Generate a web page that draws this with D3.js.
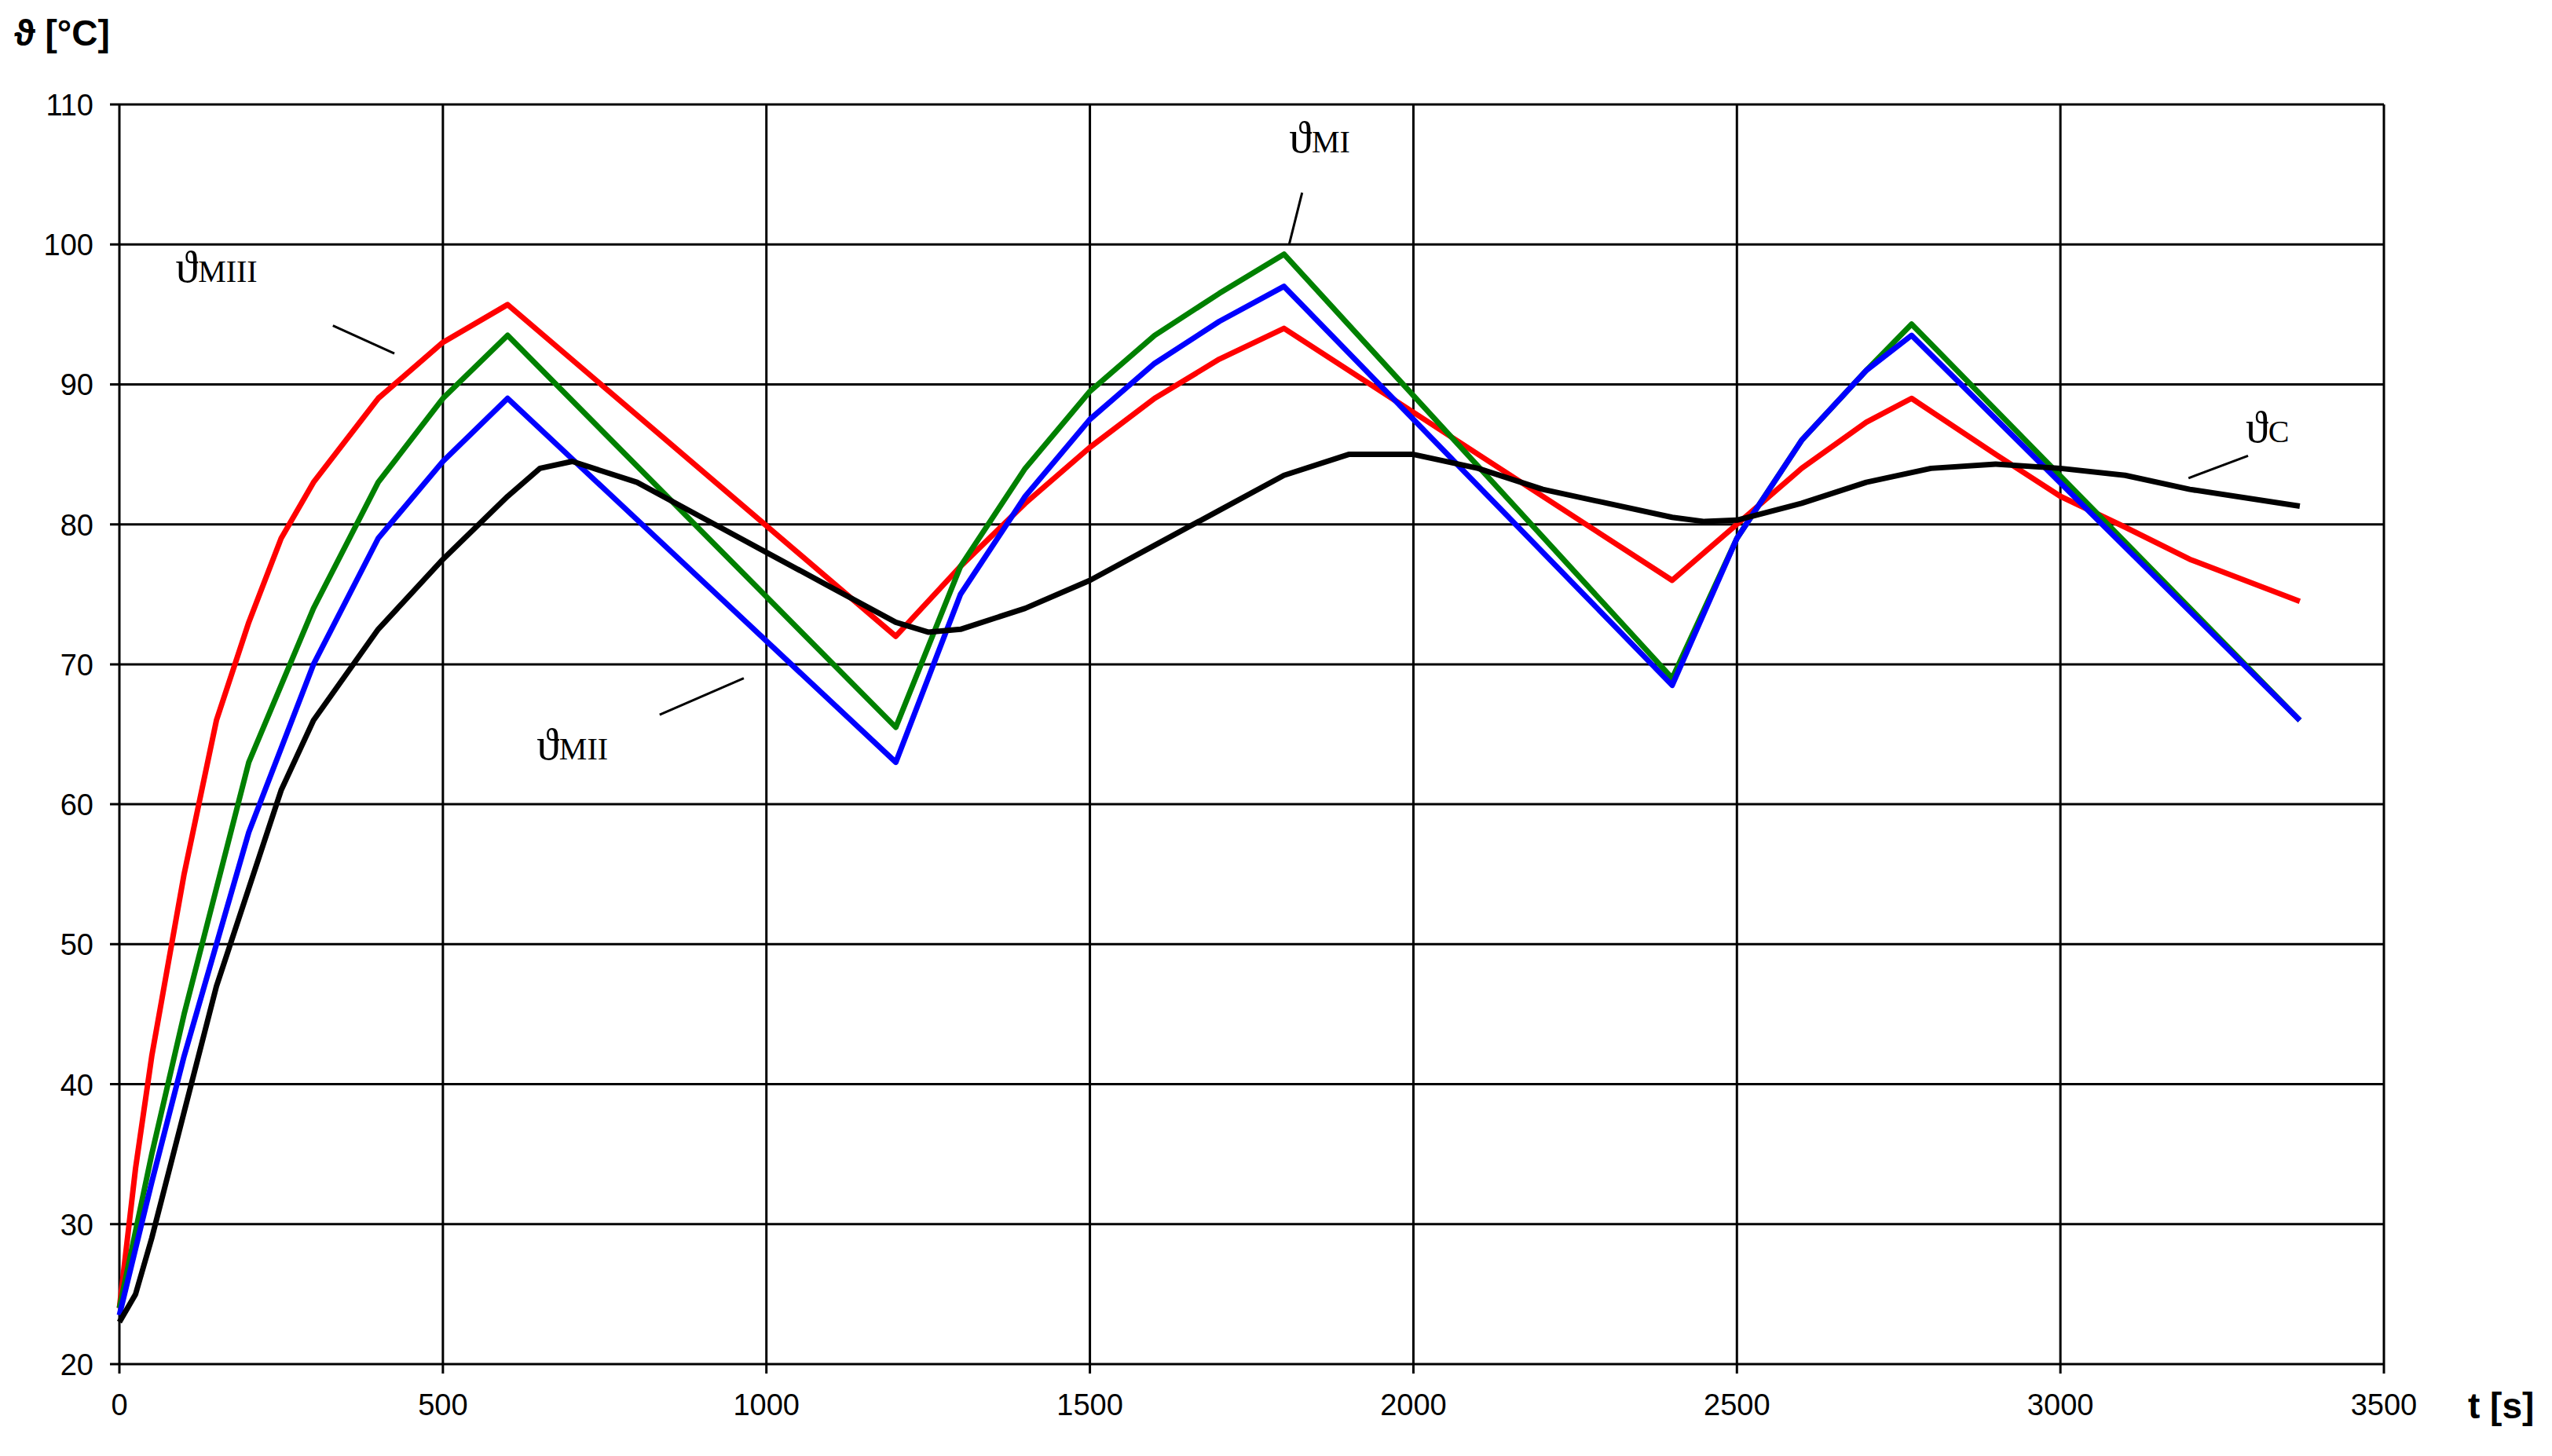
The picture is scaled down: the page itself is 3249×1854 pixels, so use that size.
<!DOCTYPE html>
<html>
<head>
<script src="https://cdn.jsdelivr.net/npm/d3@7"></script>
<style>body{margin:0;background:#fff}</style>
</head>
<body>
<svg width="3249" height="1854" id="mainsvg"></svg>
<script>
// data (t in s, temperature in degC)
const tMIII = [0,25,50,100,150,200,250,300,400,500,600,1200,1300,1400,1500,1600,1700,1800,2400,2500,2600,2700,2770,2900,3000,3100,3200,3370];
const vMIII = [24,34,42,55,66,73,79,83,89,93,95.7,72,77,81.5,85.5,89,91.8,94,76,80,84,87.3,89,85,82,79.8,77.5,74.5];
const tMI = [0,50,100,200,300,400,500,600,1200,1300,1400,1500,1600,1700,1800,2400,2500,2600,2700,2770,3370];
const vMI = [24,35,45,63,74,83,89,93.5,65.5,77,84,89.5,93.5,96.5,99.3,69,79,86,91,94.3,66];
const tMII = [0,50,100,200,300,400,500,600,1200,1300,1400,1500,1600,1700,1800,2400,2500,2600,2700,2770,3370];
const vMII = [23.5,33,42,58,70,79,84.5,89,63,75,82,87.5,91.5,94.5,97,68.5,79,86,91,93.5,66];
const tC = [0,25,50,100,150,200,250,300,400,500,600,650,700,800,900,1000,1100,1200,1250,1300,1400,1500,1600,1700,1800,1900,2000,2100,2200,2300,2400,2450,2500,2600,2700,2800,2900,3000,3100,3200,3370];
const vC = [23,25,29,38,47,54,61,66,72.5,77.5,82,84,84.5,83,80.5,78,75.5,73,72.3,72.5,74,76,78.5,81,83.5,85,85,84,82.5,81.5,80.5,80.2,80.3,81.5,83,84,84.3,84,83.5,82.5,81.3];
const xTicks = [0,500,1000,1500,2000,2500,3000,3500];
const yTicks = [20,30,40,50,60,70,80,90,100,110];

const series = [
  {t: tMIII, v: vMIII, color: "#ff0000"},
  {t: tMI, v: vMI, color: "#008000"},
  {t: tMII, v: vMII, color: "#0000ff"},
  {t: tC, v: vC, color: "#000000"}
];
// curve labels: text position and leader line (data units)
const labels = [
  {sub: "MIII", x: 150, y: 97.3, lx: [330, 425], ly: [94.2, 92.2]},
  {sub: "MI", x: 1855, y: 106.6, lx: [1828, 1808], ly: [103.7, 100]},
  {sub: "MII", x: 700, y: 63.2, lx: [835, 965], ly: [66.4, 69]},
  {sub: "C", x: 3320, y: 85.9, lx: [3290, 3198], ly: [84.9, 83.3]}
];

const svg = d3.select("#mainsvg");
const margin = {left: 152, top: 133, right: 214, bottom: 117};
const W = 3249 - margin.left - margin.right;
const H = 1854 - margin.top - margin.bottom;

const x = d3.scaleLinear().domain([0, 3500]).range([0, W]);
const y = d3.scaleLinear().domain([20, 110]).range([H, 0]);

const g = svg.append("g").attr("transform", `translate(${margin.left},${margin.top})`);

// grid
g.selectAll(".vg").data(xTicks).enter().append("line")
  .attr("x1", d => x(d)).attr("x2", d => x(d)).attr("y1", 0).attr("y2", H + 12)
  .attr("stroke", "#000").attr("stroke-width", 3);
g.selectAll(".hg").data(yTicks).enter().append("line")
  .attr("x1", -12).attr("x2", W).attr("y1", d => y(d)).attr("y2", d => y(d))
  .attr("stroke", "#000").attr("stroke-width", 3);

// tick labels
g.selectAll(".xt").data(xTicks).enter().append("text")
  .attr("x", d => x(d)).attr("y", H + 65).attr("text-anchor", "middle")
  .attr("font-family", "Liberation Sans, Arial").attr("font-size", 38).text(d => d);
g.selectAll(".yt").data(yTicks).enter().append("text")
  .attr("x", -33).attr("y", d => y(d) + 14).attr("text-anchor", "end")
  .attr("font-family", "Liberation Sans, Arial").attr("font-size", 38).text(d => d);

// axis titles
svg.append("text").attr("x", 18).attr("y", 58)
  .attr("font-family", "Liberation Sans, Arial").attr("font-weight", "bold").attr("font-size", 46)
  .text("ϑ [°C]");
svg.append("text").attr("x", 3142).attr("y", 1806)
  .attr("font-family", "Liberation Sans, Arial").attr("font-weight", "bold").attr("font-size", 46)
  .text("t [s]");

// curves
const line = d3.line().x(d => x(d[0])).y(d => y(d[1]));
series.forEach(s => {
  g.append("path").datum(d3.zip(s.t, s.v))
    .attr("d", line).attr("fill", "none")
    .attr("stroke", s.color).attr("stroke-width", 7).attr("stroke-linejoin", "round");
});

// curve labels
labels.forEach(l => {
  g.append("line")
    .attr("x1", x(l.lx[0])).attr("y1", y(l.ly[0]))
    .attr("x2", x(l.lx[1])).attr("y2", y(l.ly[1]))
    .attr("stroke", "#000").attr("stroke-width", 3);
  const t = g.append("text").attr("x", x(l.x)).attr("y", y(l.y))
    .attr("font-family", "Liberation Serif, Times New Roman").attr("text-anchor", "middle");
  t.append("tspan").attr("font-size", 58).text("ϑ");
  t.append("tspan").attr("font-size", 40).text(l.sub);
});
</script>
</body>
</html>
